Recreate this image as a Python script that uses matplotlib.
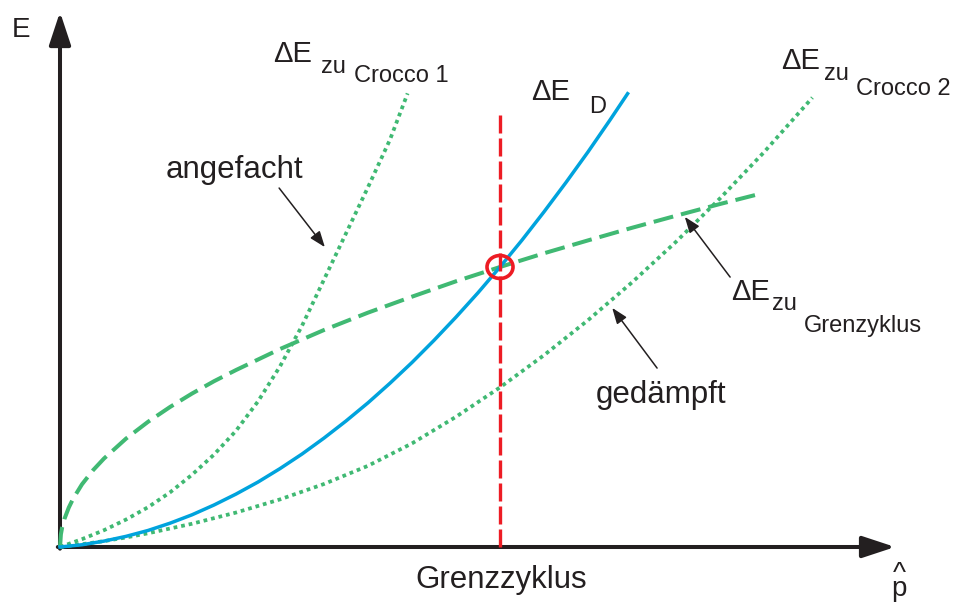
import matplotlib
matplotlib.use("Agg")
import matplotlib.pyplot as plt
from matplotlib.patches import Ellipse

plt.rcParams['font.family'] = ['Liberation Sans', 'DejaVu Sans']

# amplitude p^ (1 = limit cycle) and energy E (1 = energy at limit cycle)
p_diss = [0, 0.05, 0.1, 0.15, 0.2, 0.25, 0.3, 0.35, 0.4, 0.45, 0.5, 0.55, 0.6, 0.65,
          0.7, 0.75, 0.8, 0.85, 0.9, 0.95, 1.0, 1.05, 1.1, 1.15, 1.2, 1.25, 1.29]
E_diss = [0, 0.008, 0.021, 0.038, 0.059, 0.085, 0.115, 0.150, 0.189, 0.232, 0.280, 0.332,
          0.389, 0.450, 0.515, 0.585, 0.659, 0.738, 0.821, 0.908, 1.0, 1.096, 1.197,
          1.302, 1.411, 1.525, 1.619]

p_grenz = [0, 0.002, 0.005, 0.01, 0.02, 0.03, 0.05, 0.075, 0.1, 0.15, 0.2, 0.25, 0.3,
           0.35, 0.4, 0.5, 0.6, 0.7, 0.8, 0.9, 1.0, 1.1, 1.2, 1.3, 1.4, 1.5, 1.585]
E_grenz = [0, 0.045, 0.071, 0.1, 0.141, 0.173, 0.224, 0.274, 0.316, 0.387, 0.447, 0.5,
           0.548, 0.592, 0.632, 0.707, 0.775, 0.837, 0.894, 0.949, 1.0, 1.049, 1.095,
           1.14, 1.183, 1.225, 1.259]

p_crocco1 = [0, 0.05, 0.1, 0.15, 0.2, 0.25, 0.3, 0.35, 0.4, 0.45, 0.5, 0.55, 0.6,
             0.65, 0.7, 0.75, 0.79]
E_crocco1 = [0, 0.028, 0.06, 0.098, 0.142, 0.195, 0.258, 0.33, 0.415, 0.52, 0.645,
             0.79, 0.955, 1.12, 1.285, 1.455, 1.62]

p_crocco2 = [0, 0.05, 0.1, 0.15, 0.2, 0.3, 0.4, 0.5, 0.6, 0.7, 0.8, 0.9, 1.0, 1.1,
             1.2, 1.3, 1.4, 1.5, 1.6, 1.71]
E_crocco2 = [0, 0.01, 0.021, 0.034, 0.049, 0.083, 0.123, 0.17, 0.225, 0.29, 0.37,
             0.465, 0.57, 0.685, 0.81, 0.945, 1.09, 1.245, 1.41, 1.605]

p_limit = 1.0
E_limit = 1.0

BLUE = '#00a3dd'
GREEN = '#40b973'
RED = '#ed1c24'
INK = '#231f20'

fig = plt.figure(figsize=(9.59, 6.05), dpi=100)
ax = fig.add_axes([0, 0, 1, 1])
ax.set_xlim(-60 / 440, 899 / 440)
ax.set_ylim(-58 / 280, 547 / 280)
ax.axis('off')

# axes with arrow heads
big_head = dict(arrowstyle='-|>,head_length=1.0,head_width=0.33', mutation_scale=20,
                lw=2.9, color=INK, shrinkA=0, shrinkB=0)
ax.annotate('', xy=(0, 1.911), xytext=(0, -0.006), arrowprops=big_head, zorder=1)
ax.annotate('', xy=(1.898, 0), xytext=(-0.005, 0), arrowprops=big_head, zorder=1)

# curves
ax.plot(p_grenz, E_grenz, color=GREEN, lw=2.9, ls=(0, (5, 2)), zorder=3)
ax.plot(p_crocco1, E_crocco1, color=GREEN, lw=2.7, ls=(0, (1, 1.05)), zorder=3)
ax.plot(p_crocco2, E_crocco2, color=GREEN, lw=2.7, ls=(0, (1, 1.05)), zorder=3)
ax.plot(p_diss, E_diss, color=BLUE, lw=2.5, zorder=4)

# limit cycle marker
ax.plot([p_limit, p_limit], [0, 1.55], color=RED, lw=2.4, ls=(0, (5.4, 1.5)), zorder=5)
ax.add_patch(Ellipse((p_limit, E_limit), 26 / 440, 23 / 280, fill=False,
                     ec=RED, lw=2.6, zorder=6))

# pointer arrows
thin = dict(arrowstyle='-|>,head_length=0.8,head_width=0.3', mutation_scale=12,
            lw=1.1, color=INK, shrinkA=0, shrinkB=0)
ax.annotate('', xy=(0.602, 1.071), xytext=(0.498, 1.282), arrowprops=thin)
ax.annotate('', xy=(1.420, 1.179), xytext=(1.523, 0.964), arrowprops=thin)
ax.annotate('', xy=(1.255, 0.854), xytext=(1.357, 0.639), arrowprops=thin)


def label(x, y, s, size, **kw):
    ax.text((x - 60) / 440, (547 - y) / 280, s, fontsize=size, color=INK,
            ha='left', va='baseline', **kw)


label(12, 37, 'E', 20)
# p with hat, stacked in one text
ax.text((899 - 60) / 440, (547 - 596) / 280, '^\np', fontsize=20, color=INK,
        ha='center', va='baseline', multialignment='center', linespacing=0.45)
label(415, 588, 'Grenzzyklus', 22.5)
label(166, 178, 'angefacht', 22.5)
label(596, 403, 'gedämpft', 22.5)

label(273, 62, 'ΔE', 21)
label(321, 73, 'zu', 17)
label(354, 82, 'Crocco 1', 17)

label(531, 100, 'ΔE', 21)
label(589, 113, 'D', 17)

label(781, 69, 'ΔE', 21)
label(824, 80, 'zu', 17)
label(856, 95, 'Crocco 2', 17)

label(731, 300, 'ΔE', 21)
label(772, 310, 'zu', 17)
label(804, 332, 'Grenzyklus', 17)

fig.savefig('out.png', dpi=100)
